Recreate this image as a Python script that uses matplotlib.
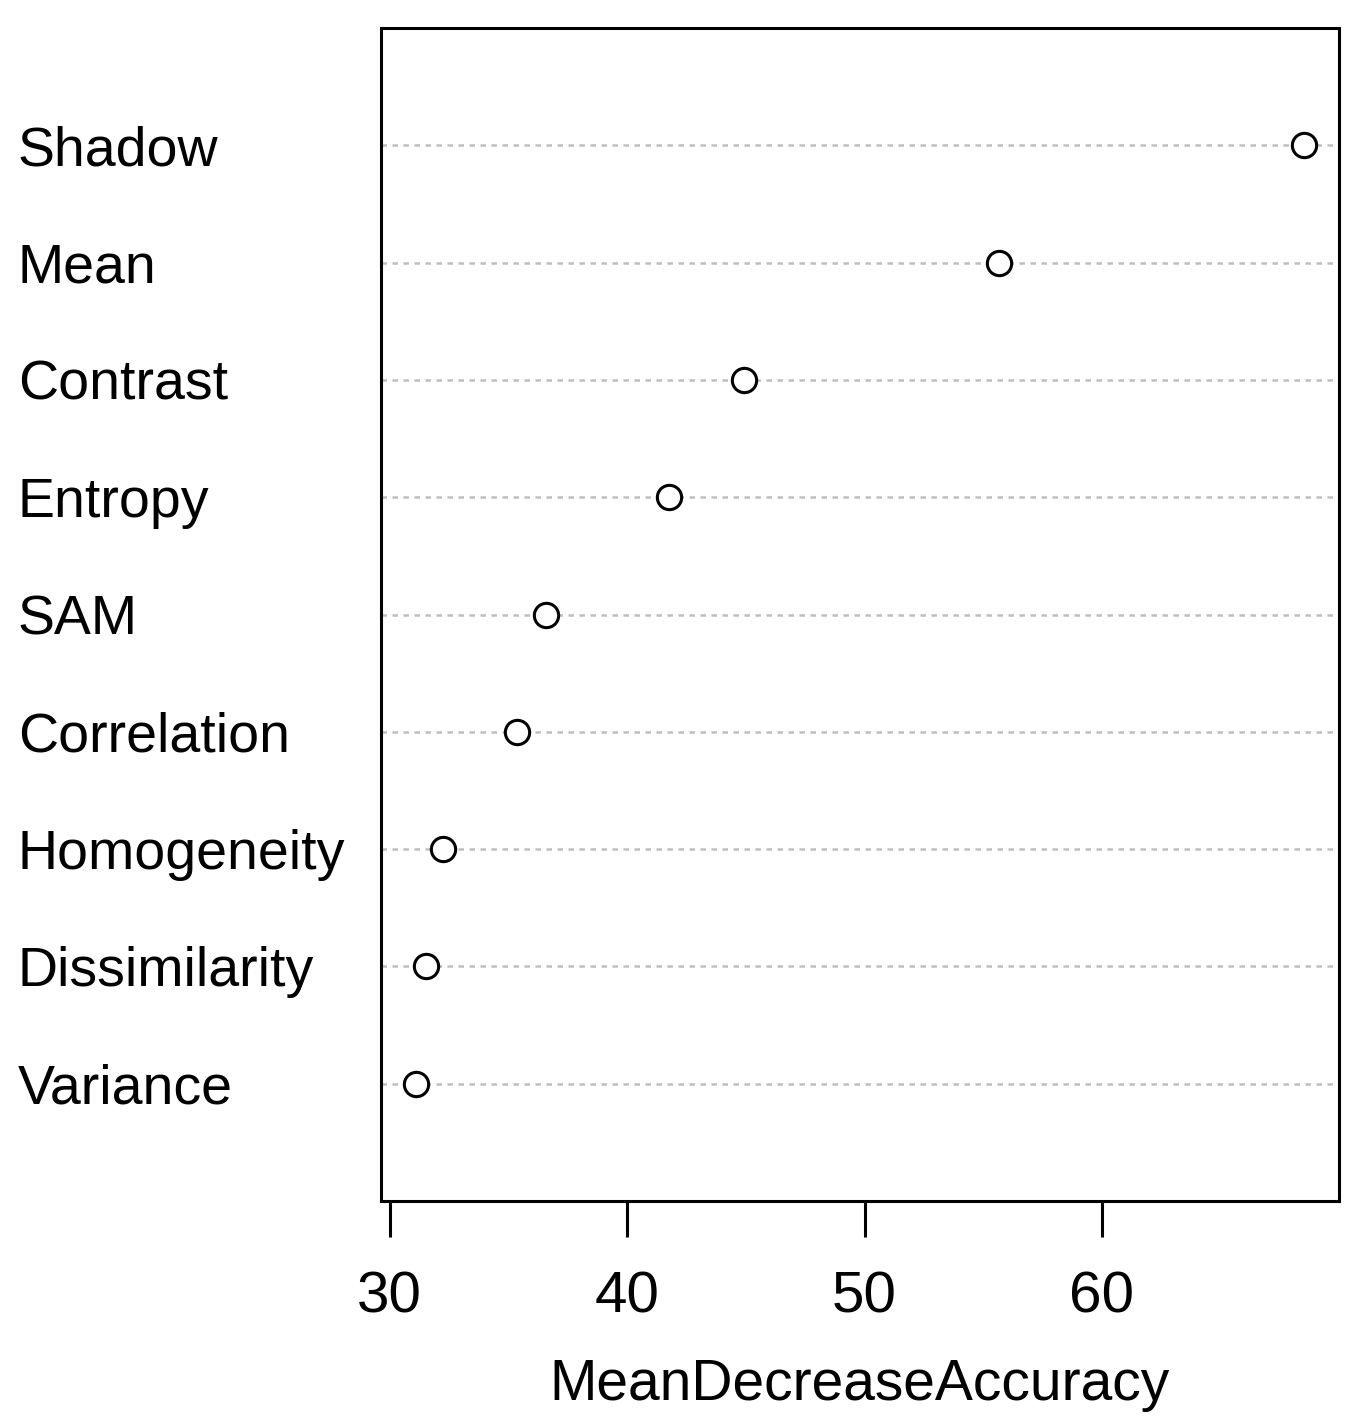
import numpy as np
import matplotlib
matplotlib.use("Agg")
import matplotlib.pyplot as plt
from matplotlib.transforms import blended_transform_factory

plt.rcParams['font.family'] = ['Liberation Sans', 'DejaVu Sans']

# variables, bottom to top as drawn by varImpPlot
names = ['Variance', 'Dissimilarity', 'Homogeneity', 'Correlation', 'SAM',
         'Entropy', 'Contrast', 'Mean', 'Shadow']
values = [31.13, 31.51, 32.23, 35.38, 36.60, 41.76, 44.92, 55.67, 68.49]
xticks = [30, 40, 50, 60]

fig = plt.figure(figsize=(13.68, 14.26), dpi=100)
ax = fig.add_axes([381/1368, 1 - 1201/1426, 958/1368, 1173/1426])

ypos = np.arange(1, len(names) + 1)
for y in ypos:
    ax.axhline(y, color='#bebebe', lw=1.8, ls=(0, (2.2, 2.2)), zorder=1)
ax.plot(values, ypos, 'o', ms=17.5, mfc='white', mec='black', mew=2.2,
        ls='none', zorder=3)

span = max(values) - min(values)
ax.set_xlim(min(values) - 0.04 * span, max(values) + 0.04 * span)
ax.set_ylim(0, len(names) + 1)

ax.set_yticks([])
ax.set_xticks(xticks)
ax.set_xticklabels([str(t) for t in xticks], fontsize=42)
ax.tick_params(axis='x', length=26, width=2.2, pad=24)
for s in ax.spines.values():
    s.set_linewidth(2.2)

trans = blended_transform_factory(fig.transFigure, ax.transData)
for n, y in zip(names, ypos):
    ax.text(18/1368, y, n, transform=trans, fontsize=40, ha='left',
            va='center_baseline')

ax.set_xlabel('MeanDecreaseAccuracy', fontsize=41, labelpad=24)

fig.savefig('out.png', dpi=100)
